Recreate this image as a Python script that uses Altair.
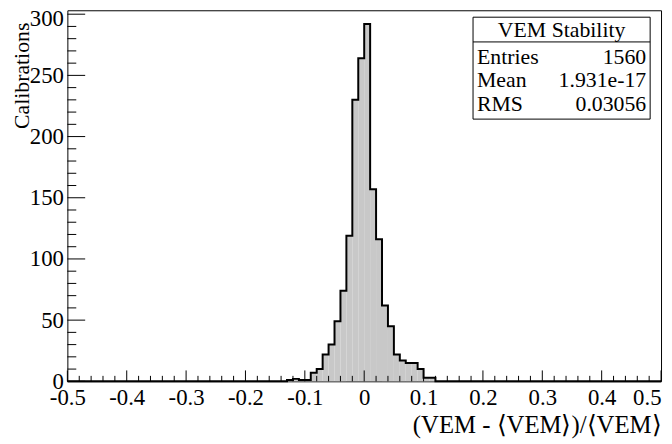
import altair as alt
import pandas as pd

# ---------------- data ----------------
BIN_WIDTH = 0.01
X_RANGE = [-0.5, 0.5]
Y_TOP = 303.2

# left edges of the non-empty bins and their counts
filled_lefts = [-0.13, -0.12, -0.11, -0.10, -0.09, -0.08, -0.07, -0.06, -0.05,
                -0.04, -0.03, -0.02, -0.01, 0.00, 0.01, 0.02, 0.03, 0.04, 0.05,
                0.06, 0.07, 0.08, 0.09, 0.10, 0.11]
filled_counts = [1, 2, 1, 1, 7, 10, 22, 30, 49,
                 74, 119, 230, 264, 292, 157, 116, 62, 45, 22,
                 17, 15, 15, 10, 3, 3]

x_label_values = [-0.5, -0.4, -0.3, -0.2, -0.1, 0.0, 0.1, 0.2, 0.3, 0.4, 0.5]
y_label_values = [0, 50, 100, 150, 200, 250, 300]

stats_title = "VEM Stability"
stat_labels = ["Entries", "Mean", "RMS"]
stat_values = ["1560", "1.931e-17", "0.03056"]

x_title = "(VEM - \u27e8VEM\u27e9)/\u27e8VEM\u27e9"
y_title = "Calibrations"

# ---------------- tables ----------------
hist_df = pd.DataFrame({
    "left": filled_lefts,
    "right": [round(l + BIN_WIDTH, 2) for l in filled_lefts],
    "count": filled_counts,
})

n_bins = int(round((X_RANGE[1] - X_RANGE[0]) / BIN_WIDTH))
all_lefts = [round(X_RANGE[0] + i * BIN_WIDTH, 2) for i in range(n_bins)]
lookup = dict(zip(filled_lefts, filled_counts))
step_df = pd.DataFrame({
    "x": all_lefts + [X_RANGE[1]],
    "y": [lookup.get(l, 0) for l in all_lefts] + [0],
})

x_major = x_label_values
x_minor = [round(-0.5 + 0.02 * i, 2) for i in range(51)]
x_minor = [v for v in x_minor if round(v * 10, 6) != round(v * 10)]
y_major = y_label_values
y_minor = [v for v in range(0, 301, 10) if v % 50 != 0]

stats_df = pd.DataFrame({"label": stat_labels, "value": stat_values})
one = pd.DataFrame({"t": [stats_title]})

# ---------------- layout ----------------
W, H = 600, 375
FONT = "Liberation Serif"
xs = alt.Scale(domain=X_RANGE, nice=False, zero=False)
ys = alt.Scale(domain=[0, Y_TOP], nice=False)

x_axis = alt.Axis(
    values=x_label_values, format=".1~f",
    labelExpr="replace(datum.label, '\u2212', '-')",
    labelAlign={"condition": {"test": "datum.value >= 0.5", "value": "right"},
                "value": "center"},
    title=x_title, titleAnchor="end", titleAlign="right",
    titleX=W, titleY=52, titleBaseline="alphabetic", titleFontSize=25,
    labelPadding=5, labelFlush=False, labelOverlap=False, labelBound=False)
y_axis = alt.Axis(
    values=y_label_values, format="d",
    labelOffset={"condition": {"test": "datum.value >= 300", "value": 4},
                 "value": 0},
    title=y_title, titleAngle=270, titleAlign="right",
    titleBaseline="middle", titleX=-46, titleY=12, titleFontSize=22,
    labelPadding=4, labelFlush=False, labelOverlap=False, labelBound=False)


def X(field):
    return alt.X(field, scale=xs, axis=x_axis, title=x_title)


def Y(field):
    return alt.Y(field, scale=ys, axis=y_axis, title=y_title)


fill = alt.Chart(hist_df).mark_rect(color="#c8c8c8").encode(
    x=X("left:Q"), x2="right:Q", y=Y("count:Q"), y2=alt.datum(0),
)

contour = alt.Chart(step_df).mark_line(
    interpolate="step-after", color="black", strokeWidth=2
).encode(x=X("x:Q"), y=Y("y:Q"))


def xticks(vals, length):
    return alt.Chart(pd.DataFrame({"t": vals})).mark_rule(
        color="black", strokeWidth=1
    ).encode(x=X("t:Q"), y=alt.value(H), y2=alt.value(H - length))


def yticks(vals, length):
    return alt.Chart(pd.DataFrame({"t": vals})).mark_rule(
        color="black", strokeWidth=1
    ).encode(y=Y("t:Q"), x=alt.value(0), x2=alt.value(length))


BX0, BX1, BY0, BY1 = 410, 589, 7, 110
box = alt.Chart(one).mark_rect(fill="white", stroke="black", strokeWidth=1).encode(
    x=alt.value(BX0), x2=alt.value(BX1), y=alt.value(BY0), y2=alt.value(BY1)
)
sep = alt.Chart(one).mark_rule(color="black", strokeWidth=1).encode(
    x=alt.value(BX0), x2=alt.value(BX1), y=alt.value(32)
)
box_title = alt.Chart(one).mark_text(
    font=FONT, fontSize=22, align="center", baseline="alphabetic", color="black"
).encode(x=alt.value((BX0 + BX1) / 2), y=alt.value(27), text="t:N")

stat_layers = []
for i, lab in enumerate(stat_labels):
    base = alt.Chart(stats_df).transform_filter(alt.datum.label == lab)
    stat_layers.append(base.mark_text(
        font=FONT, fontSize=22, align="left", baseline="alphabetic", color="black"
    ).encode(x=alt.value(BX0 + 4), y=alt.value(54 + 24 * i), text="label:N"))
    stat_layers.append(base.mark_text(
        font=FONT, fontSize=22, align="right", baseline="alphabetic", color="black"
    ).encode(x=alt.value(BX1 - 4), y=alt.value(54 + 24 * i), text="value:N"))

chart = alt.layer(
    fill, contour,
    xticks(x_major, 11), xticks(x_minor, 5.5),
    yticks(y_major, 18), yticks(y_minor, 9),
    box, sep, box_title, *stat_layers,
).properties(
    width=W, height=H,
    autosize=alt.AutoSizeParams(type="none"),
    padding={"left": 60, "top": 0, "right": 3, "bottom": 56},
    background="white",
).configure_view(
    stroke="black", strokeWidth=1
).configure_axis(
    labelFont=FONT, titleFont=FONT, labelFontSize=23,
    labelColor="black", titleColor="black", titleFontWeight="normal",
    ticks=False, domain=False, grid=False,
)

chart.save("out.html", embed_options={"renderer": "svg", "actions": False})
